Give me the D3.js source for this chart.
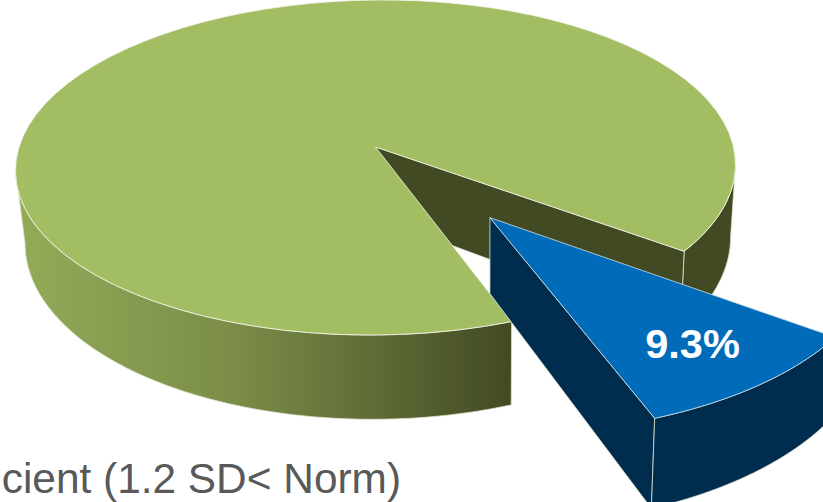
<!DOCTYPE html>
<html>
  <head>
    <meta charset="utf-8">
    <title>Exploded 3D pie</title>
    <script src="https://d3js.org/d3.v7.min.js"></script>
    <style>
      html, body { margin: 0; padding: 0; background: #fff; overflow: hidden; }
      svg { display: block; }
    </style>
  </head>
  <body>
    <script>
        // data
        var categories = ["Other", "Deficient"]
        var values = [90.7, 9.3]
        var legendText = "cient (1.2 SD< Norm)"

        var width = 823
        var height = 502
        var rad = Math.PI / 180

        var svg = d3.select("body").append("svg")
            .attr("width", width)
            .attr("height", height);

        // perspective of the pie plane, u/v are on the unit circle
        var cx = 375.5, cy = 147, a = 357.3, b = 165, k = 0.1224, tilt = -3
        function top3d(u, v) {
            var w = 1 - k * v
            return [cx + a * u / w, cy + b * v / w + tilt * u]
        }
        // the bottom plane sits lower and a little narrower
        function bottom3d(p) {
            return [491 + (p[0] - 491) * 0.98, p[1] + 76 + 0.07 * (p[1] - 217)]
        }
        // d3 angle: 0 at 12 o'clock, clockwise
        function rim(angle, off, r) {
            return top3d(off[0] + r * Math.sin(angle), off[1] - r * Math.cos(angle))
        }
        function arcPts(a0, a1, off, r) {
            var n = 80
            return d3.range(n + 1).map(function(i) { return rim(a0 + (a1 - a0) * i / n, off, r) })
        }
        var line = d3.line()
        function poly(pts) { return line(pts) + "Z" }

        var pie = d3.pie().sort(null)
            .startAngle(160.3 * rad)
            .endAngle(160.3 * rad + 2 * Math.PI)
        var slices = pie(values)
        var green = slices[0], blue = slices[1]

        // small slice is pulled out along its bisector
        var mid = (blue.startAngle + blue.endAngle) / 2
        var explode = 0.512
        var blueR = 1.025
        var none = [0, 0]
        var off = [explode * Math.sin(mid), -explode * Math.cos(mid)]

        var defs = svg.append("defs")
        var grad = defs.append("linearGradient")
            .attr("id", "wall")
            .attr("gradientUnits", "userSpaceOnUse")
            .attr("x1", 20).attr("x2", 510).attr("y1", 0).attr("y2", 0)
        grad.append("stop").attr("offset", 0).attr("stop-color", "#93aa58")
        grad.append("stop").attr("offset", 0.45).attr("stop-color", "#7a8c47")
        grad.append("stop").attr("offset", 1).attr("stop-color", "#424a24")

        function wall(pts, fill, g) {
            g.append("path")
                .attr("d", poly(pts.concat(pts.map(bottom3d).reverse())))
                .attr("fill", fill)
                .attr("stroke", "#dfe3d2")
                .attr("stroke-width", 0.8)
        }

        // green slice
        var gG = svg.append("g")
        var gStart = green.startAngle
        var gEnd = green.endAngle
        var apex = top3d(0, 0)

        // right hand piece of the rim, then the cut face behind the small slice
        wall(arcPts(gEnd - 2 * Math.PI, 97 * rad, none, 1), "#424a24", gG)
        wall([apex, rim(gEnd, none, 1)], "#424a24", gG)
        wall(arcPts(gStart, 263 * rad, none, 1), "url(#wall)", gG)

        var topPts = [apex].concat(arcPts(gStart, gEnd, none, 1))
        gG.append("path").attr("d", poly(topPts))
            .attr("fill", "#a3bd62")
            .attr("stroke", "#f2f4ea")
            .attr("stroke-width", 0.8)

        // blue slice
        var bG = svg.append("g")
        var bApex = top3d(off[0], off[1])
        var bRim = arcPts(blue.startAngle, blue.endAngle, off, blueR)
        wall([bApex, bRim[bRim.length - 1]], "#002c4d", bG)
        wall(bRim, "#002c4d", bG)
        bG.append("path")
            .attr("d", poly([bApex].concat(bRim)))
            .attr("fill", "#006bb9")
            .attr("stroke", "#cfe0ee")
            .attr("stroke-width", 0.8)

        svg.append("text")
            .attr("x", 692.5)
            .attr("y", 358)
            .attr("text-anchor", "middle")
            .attr("font-family", "Liberation Sans")
            .attr("font-weight", "bold")
            .attr("font-size", 41.5)
            .attr("fill", "#fff")
            .text(d3.format(".1f")(values[1]) + "%");

        svg.append("text")
            .attr("x", 401)
            .attr("y", 493)
            .attr("text-anchor", "end")
            .attr("font-family", "Liberation Sans")
            .attr("font-size", 42.4)
            .attr("fill", "#595959")
            .text(legendText);
    </script>
  </body>
</html>
